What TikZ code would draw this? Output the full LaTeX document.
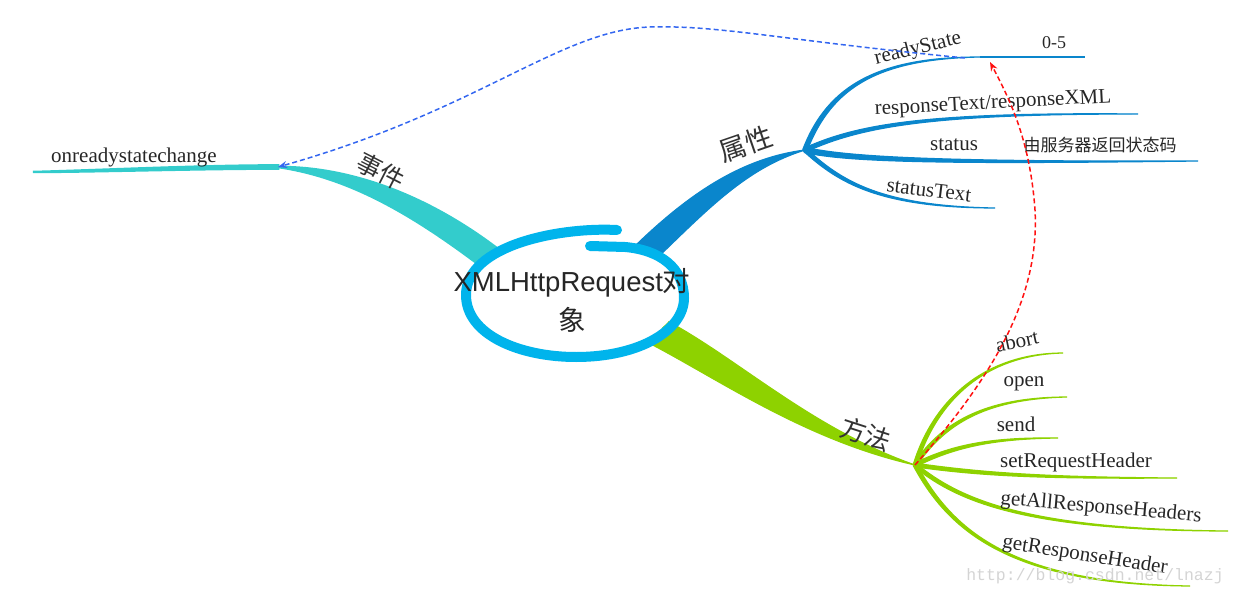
\documentclass[tikz,border=0pt]{standalone}
\usepackage{fontspec}
\setmainfont{Liberation Serif}
\newfontfamily\cjkfont{Noto Sans CJK SC}
\newfontfamily\arialfont{Liberation Sans}
\newfontfamily\markfont{Liberation Mono}
\usetikzlibrary{arrows.meta,calc}
\definecolor{eventteal}{HTML}{33CCCC}
\definecolor{propblue}{HTML}{0A86CC}
\definecolor{methgreen}{HTML}{8ED200}
\definecolor{ringcyan}{HTML}{00B4EC}
\definecolor{linkblue}{HTML}{3366F0}
\definecolor{linkred}{HTML}{FF1010}
\definecolor{markgray}{HTML}{D4D4D4}
\tikzset{
  leaf/.style={
    font=\fontsize{21}{24}\selectfont,
    inner sep=0pt,
    text=black!85
  },
  topic/.style={
    font=\cjkfont\fontsize{25}{28}\selectfont,
    inner sep=0pt,
    text=black!80
  },
  remark/.style={
    inner sep=0pt,
    text=black!85
  },
  ring/.style={
    draw=ringcyan,
    line width=10pt,
    line cap=round
  },
  linkarrow/.style={
    -{Stealth[length=9pt,width=7pt]},
    line width=1.5pt,
    dash pattern=on 5pt off 3pt
  }
}
% tapered branch: root, control 1, control 2, tip, half width at root
\newcommand{\taper}[5]{%
  \filldraw ($(#1)!#5!90:(#2)$) .. controls ($(#2)!#5!-90:(#1)$) and ($(#3)!0.45*#5!90:(#4)$) .. (#4)
    .. controls ($(#3)!0.45*#5!-90:(#4)$) and ($(#2)!#5!90:(#1)$) .. ($(#1)!#5!-90:(#2)$) -- cycle;}

\begin{document}
\begin{tikzpicture}[x=1pt, y=-1pt]
  \useasboundingbox (0,0) rectangle (1236,596);

  % hubs and branch ends
  \coordinate (evroot) at (490,258);
  \coordinate (evhub) at (278,167);
  \coordinate (evend) at (33,172);
  \coordinate (prroot) at (645,253);
  \coordinate (prhub) at (805,150);
  \coordinate (mtroot) at (660,333);
  \coordinate (mthub) at (915,465);
  \coordinate (rsmid) at (980,57);
  \coordinate (rsend) at (1085,57);
  \coordinate (rtend) at (1138,114);
  \coordinate (stend) at (1198,161);
  \coordinate (sxend) at (995,208);
  \coordinate (abend) at (1063,353);
  \coordinate (opend) at (1067,397);
  \coordinate (seend) at (1058,438);
  \coordinate (srend) at (1177,478);
  \coordinate (gaend) at (1228,531);
  \coordinate (grend) at (1190,586);

  % 事件
  \begin{scope}[fill=eventteal, draw=eventteal, line width=2.5pt]
    \taper{evroot}{420,205}{350,172}{evhub}{12pt}
    \taper{evhub}{200,167}{100,171}{evend}{1.6pt}
  \end{scope}

  % 属性
  \begin{scope}[fill=propblue, draw=propblue, line width=1.2pt]
    \taper{prroot}{700,200}{745,163}{prhub}{12pt}
    \taper{prhub}{830,85}{880,58}{rsmid}{2.2pt}
    \draw (rsmid) -- (rsend);
    \foreach \ax/\ay/\bx/\by/\e/\w in {860/125/930/113/rtend/2pt,
        850/160/950/163/stend/2.6pt, 840/182/880/207/sxend/1.8pt}
      \taper{prhub}{\ax,\ay}{\bx,\by}{\e}{\w};
  \end{scope}

  % 方法
  \begin{scope}[fill=methgreen, draw=methgreen, line width=1.2pt]
    \taper{mtroot}{730,370}{810,435}{mthub}{14pt}
    \foreach \ax/\ay/\bx/\by/\e in {935/400/985/354/abend, 945/420/990/398/opend,
        955/445/995/438/seend, 985/475/1050/478/srend,
        960/502/1030/530/gaend, 950/530/1010/584/grend}
      \taper{mthub}{\ax,\ay}{\bx,\by}{\e}{1.8pt};
  \end{scope}

  % centre
  \fill[white] (574,294) ellipse [x radius=106, y radius=60];
  \draw[ring] (617,230) .. controls (560,227) and (466,245) .. (466,295)
    .. controls (466,335) and (520,357) .. (576,357)
    .. controls (640,357) and (684,330) .. (684,298)
    .. controls (684,268) and (660,250) .. (625,247) -- (590,246);
  \node[align=center, inner sep=0pt, text=black!85,
    font=\fontsize{27.5}{39}\selectfont] (xhr) at (572,300)
    {{\arialfont XMLHttpRequest}{\cjkfont 对}\\{\cjkfont 象}};

  % topics
  \node[topic, rotate=-27] (events) at (381,171) {事件};
  \node[topic, rotate=19, font=\cjkfont\fontsize{27}{30}\selectfont] (props) at (746,144) {属性};
  \node[topic, rotate=-18, font=\cjkfont\fontsize{26}{30}\selectfont] (methods) at (866,434) {方法};

  % leaves
  \node[leaf] (orsc) at (134,157) {onreadystatechange};
  \node[leaf, rotate=14] (rs) at (918,49) {readyState};
  \node[remark, font=\fontsize{18}{20}\selectfont] (range) at (1054,43) {0-5};
  \node[leaf, rotate=3] (rtext) at (993,104) {responseText/responseXML};
  \node[leaf] (st) at (954,145) {status};
  \node[remark, font=\cjkfont\fontsize{17}{20}\selectfont] (stnote) at (1100,145) {由服务器返回状态码};
  \node[leaf, rotate=-7] (stext) at (929,190) {statusText};
  \node[leaf, rotate=12] (ab) at (1017,341) {abort};
  \node[leaf] (op) at (1024,384) {open};
  \node[leaf] (se) at (1016,424) {send};
  \node[leaf] (sr) at (1076,462) {setRequestHeader};
  \node[leaf, rotate=-5] (ga) at (1101,508) {getAllResponseHeaders};
  \node[leaf, rotate=-9] (gr) at (1085,556) {getResponseHeader};

  % links
  \coordinate (rsfrom) at (965,58);
  \coordinate (rstip) at (990,62);
  \draw[linkarrow, linkblue] (rsfrom) .. controls (780,40) and (720,25) .. (650,27)
    .. controls (560,30) and (480,110) .. (evhub);
  \draw[linkarrow, linkred] (mthub) .. controls (990,380) and (1040,300) .. (1035,210)
    .. controls (1030,140) and (1010,100) .. (rstip);

  \node[text=markgray, font=\markfont\fontsize{16.5}{18}\selectfont] (mark) at (1095,576)
    {http://blog.csdn.net/lnazj};
\end{tikzpicture}
\end{document}
